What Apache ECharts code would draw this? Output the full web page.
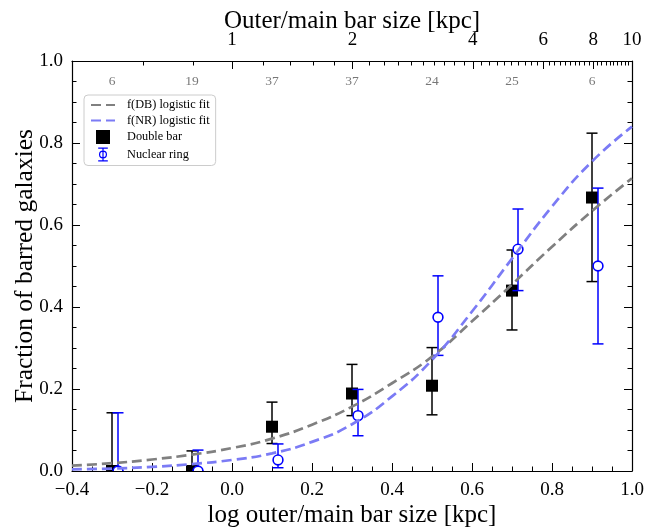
<!DOCTYPE html>
<html>
<head>
<meta charset="utf-8">
<script src="https://cdn.jsdelivr.net/npm/echarts@6/dist/echarts.min.js"></script>
<style>
  html, body { margin: 0; padding: 0; background: #fff; }
  #chart { width: 646px; height: 530px; }
</style>
</head>
<body>
<div id="chart"></div>
<script>
// Bin centres (log outer/main bar size) and galaxy counts per bin
const binX   = [-0.3, -0.1, 0.1, 0.3, 0.5, 0.7, 0.9];
const counts = [6, 19, 37, 37, 24, 25, 6];

// Double-bar fractions with lower/upper error bounds
const dbFrac = [0.0, 0.0, 0.108, 0.189, 0.208, 0.44, 0.667];
const dbLow  = [0.0, 0.0, 0.067, 0.135, 0.137, 0.344, 0.462];
const dbHigh = [0.142, 0.049, 0.168, 0.26, 0.301, 0.539, 0.824];

// Nuclear-ring fractions (plotted slightly shifted to the right)
const nrX    = [-0.285, -0.085, 0.115, 0.315, 0.515, 0.715, 0.915];
const nrFrac = [0.0, 0.0, 0.027, 0.135, 0.375, 0.541, 0.5];
const nrLow  = [0.0, 0.0, 0.008, 0.086, 0.282, 0.44, 0.31];
const nrHigh = [0.142, 0.051, 0.066, 0.199, 0.476, 0.639, 0.69];

// Logistic fit curves sampled along x
const fitX  = [-0.4, -0.3, -0.2, -0.1, 0.0, 0.1, 0.2, 0.3, 0.4, 0.5, 0.6, 0.7, 0.8, 0.9, 1.0];
const dbFit = [0.013, 0.019, 0.028, 0.040, 0.056, 0.079, 0.113, 0.157, 0.214, 0.279, 0.365, 0.455, 0.547, 0.634, 0.714];
const nrFit = [0.004, 0.006, 0.010, 0.017, 0.027, 0.043, 0.071, 0.114, 0.182, 0.271, 0.389, 0.518, 0.645, 0.755, 0.840];

// Top axis: physical bar size in kpc
const topMajorLabels = [1, 2, 4, 6, 8, 10];

const FONT = 'Liberation Serif, Times New Roman, serif';
const topMajor = topMajorLabels.map(v => Math.log10(v));
const topMinor = [];
for (let k = 3; k <= 49; k++) {
  const v = k * 0.2;
  if (topMajorLabels.some(m => Math.abs(m - v) < 1e-6)) continue;
  const lv = Math.log10(v);
  if (lv > -0.4 && lv < 1.0) topMinor.push(lv);
}

const fmtTick = v => (v < 0 ? '\u2212' : '') + Math.abs(v).toFixed(1);

// Error bar with caps plus a marker ('square' or 'ring') at the measured value
function errorPoint(color, marker) {
  return function (params, api) {
    const x = api.value(0), y = api.value(1), lo = api.value(2), hi = api.value(3);
    const t = api.coord([x, hi]), b = api.coord([x, lo]), c = api.coord([x, y]);
    const hw = 5.5;
    const st = { stroke: color, lineWidth: 1.5 };
    const children = [
      { type: 'line', shape: { x1: t[0], y1: t[1], x2: b[0], y2: b[1] }, style: st },
      { type: 'line', shape: { x1: t[0] - hw, y1: t[1], x2: t[0] + hw, y2: t[1] }, style: st },
      { type: 'line', shape: { x1: b[0] - hw, y1: b[1], x2: b[0] + hw, y2: b[1] }, style: st }
    ];
    if (marker === 'square') {
      children.push({ type: 'rect', shape: { x: c[0] - 6, y: c[1] - 6, width: 12, height: 12 }, style: { fill: color } });
    } else {
      children.push({ type: 'circle', shape: { cx: c[0], cy: c[1], r: 4.9 }, style: { fill: '#fff', stroke: color, lineWidth: 1.6 } });
    }
    return { type: 'group', children: children };
  };
}

const axisLineStyle = { color: '#000', width: 1.2 };
const tickStyle = { color: '#000', width: 1 };
const baseValueAxis = {
  type: 'value', min: -0.4, max: 1.0,
  splitLine: { show: false }
};

const ringIcon = 'path://M5.3 0h1.4v16h-1.4Z M0.5 0h11v1.4h-11Z M0.5 14.6h11v1.4h-11Z ' +
  'M10.6 8A4.6 4.6 0 1 1 1.4 8A4.6 4.6 0 1 1 10.6 8Z ' +
  'M9.2 8A3.2 3.2 0 1 0 2.8 8A3.2 3.2 0 1 0 9.2 8Z';
const hiddenSymbol = { color: 'transparent', borderColor: 'transparent', borderWidth: 0, opacity: 0 };

const chart = echarts.init(document.getElementById('chart'), null, { renderer: 'canvas' });
chart.setOption({
  animation: false,
  backgroundColor: '#fff',
  textStyle: { fontFamily: FONT },
  grid: { left: 72, right: 14, top: 61, bottom: 59, containLabel: false, outerBoundsMode: 'none' },
  legend: {
    orient: 'vertical', left: 84, top: 95,
    backgroundColor: 'rgba(255,255,255,0.8)',
    borderColor: '#cccccc', borderWidth: 1, borderRadius: 4,
    padding: [4, 6, 4, 6], itemGap: 3.5, itemWidth: 24, itemHeight: 14,
    textStyle: { fontFamily: FONT, fontSize: 12.3, color: '#000', padding: [0, 0, 0, 7] },
    data: [
      { name: 'f(DB) logistic fit', itemStyle: hiddenSymbol },
      { name: 'f(NR) logistic fit', itemStyle: hiddenSymbol },
      { name: 'Double bar', icon: 'path://M0 0h12v12h-12Z', itemStyle: { color: '#000', borderWidth: 0, opacity: 1 } },
      { name: 'Nuclear ring', icon: ringIcon, itemStyle: { color: '#0000ff', borderWidth: 0, opacity: 1 } }
    ]
  },
  xAxis: [
    Object.assign({}, baseValueAxis, {
      position: 'bottom', interval: 0.2,
      name: 'log outer/main bar size [kpc]', nameLocation: 'middle', nameGap: 32, nameMoveOverlap: false,
      nameTextStyle: { fontFamily: FONT, fontSize: 25, color: '#000' },
      axisLine: { onZero: false, lineStyle: axisLineStyle },
      axisTick: { inside: true, length: 8, lineStyle: tickStyle },
      minorTick: { show: true, splitNumber: 4, length: 4.5, lineStyle: tickStyle },
      axisLabel: { formatter: fmtTick, fontFamily: FONT, fontSize: 19, color: '#000', margin: 10 }
    }),
    Object.assign({}, baseValueAxis, {
      position: 'top',
      name: 'Outer/main bar size [kpc]', nameLocation: 'middle', nameGap: 27, nameMoveOverlap: false,
      nameTextStyle: { fontFamily: FONT, fontSize: 25, color: '#000' },
      axisLine: { onZero: false, lineStyle: axisLineStyle },
      axisTick: { inside: true, length: 8, customValues: topMajor, lineStyle: tickStyle },
      axisLabel: {
        customValues: topMajor, fontFamily: FONT, fontSize: 19, color: '#000', margin: 11,
        formatter: v => String(Math.round(Math.pow(10, v)))
      }
    }),
    Object.assign({}, baseValueAxis, {
      position: 'top',
      axisLine: { show: false, onZero: false },
      axisTick: { inside: true, length: 4.5, customValues: topMinor, lineStyle: tickStyle },
      axisLabel: { show: false }
    })
  ],
  yAxis: [
    {
      type: 'value', min: 0, max: 1, interval: 0.2, position: 'left',
      name: 'Fraction of barred galaxies', nameLocation: 'middle', nameGap: 34, nameMoveOverlap: false,
      nameTextStyle: { fontFamily: FONT, fontSize: 25.5, color: '#000' },
      splitLine: { show: false },
      axisLine: { show: true, onZero: false, lineStyle: axisLineStyle },
      axisTick: { show: true, inside: true, length: 8, lineStyle: tickStyle },
      minorTick: { show: true, splitNumber: 4, length: 4.5, lineStyle: tickStyle },
      axisLabel: { formatter: v => v.toFixed(1), fontFamily: FONT, fontSize: 19, color: '#000', margin: 9 }
    },
    {
      type: 'value', min: 0, max: 1, interval: 0.2, position: 'right',
      splitLine: { show: false },
      axisLine: { show: true, onZero: false, lineStyle: axisLineStyle },
      axisTick: { show: true, inside: true, length: 8, lineStyle: tickStyle },
      minorTick: { show: true, splitNumber: 4, length: 4.5, lineStyle: tickStyle },
      axisLabel: { show: false }
    }
  ],
  series: [
    {
      name: 'Double bar', type: 'custom', renderItem: errorPoint('#000', 'square'),
      encode: { x: 0, y: [1, 2, 3] }, clip: true, z: 2,
      itemStyle: { color: '#000' },
      data: binX.map((x, i) => [x, dbFrac[i], dbLow[i], dbHigh[i]])
    },
    {
      name: 'Nuclear ring', type: 'custom', renderItem: errorPoint('#0000ff', 'ring'),
      encode: { x: 0, y: [1, 2, 3] }, clip: true, z: 3,
      itemStyle: { color: '#0000ff' },
      data: nrX.map((x, i) => [x, nrFrac[i], nrLow[i], nrHigh[i]])
    },
    {
      name: 'f(DB) logistic fit', type: 'line', smooth: true, symbol: 'none', z: 4,
      lineStyle: { color: '#808080', width: 2.7, type: [10, 5] },
      itemStyle: { color: '#808080' },
      data: fitX.map((x, i) => [x, dbFit[i]])
    },
    {
      name: 'f(NR) logistic fit', type: 'line', smooth: true, symbol: 'none', z: 4,
      lineStyle: { color: '#7b7bf5', width: 2.7, type: [10, 5] },
      itemStyle: { color: '#7b7bf5' },
      data: fitX.map((x, i) => [x, nrFit[i]])
    },
    {
      name: 'counts', type: 'scatter', symbolSize: 0, silent: true, z: 5,
      label: {
        show: true, position: 'inside', color: '#555',
        fontFamily: FONT, fontSize: 13.5,
        formatter: p => String(counts[p.dataIndex])
      },
      data: binX.map(x => [x, 0.95])
    }
  ]
});
</script>
</body>
</html>
